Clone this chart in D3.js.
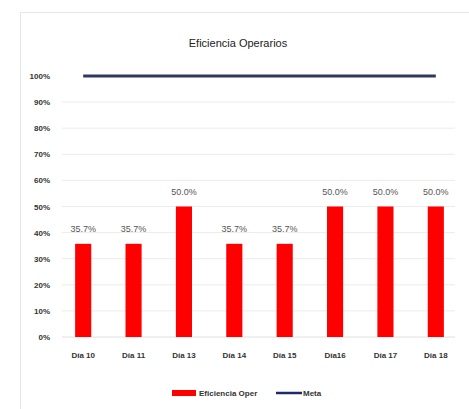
<!DOCTYPE html>
<html><head><meta charset="utf-8">
<script src="https://cdn.jsdelivr.net/npm/d3@7"></script>
<style>body{margin:0;background:#fff}svg{display:block}</style>
</head><body>
<svg id="c" width="469" height="409"></svg>
<script>
const categories = ["Día 10","Día 11","Día 13","Día 14","Día 15","Día16","Día 17","Día 18"];
const eficiencia = [0.357,0.357,0.5,0.357,0.357,0.5,0.5,0.5];
const meta = [1,1,1,1,1,1,1,1];
const yTicks = [0,0.1,0.2,0.3,0.4,0.5,0.6,0.7,0.8,0.9,1.0];
const title = "Eficiencia Operarios";
const legendLabels = ["Eficiencia Oper","Meta"];

const svg = d3.select("#c");
const font = "'Liberation Sans Narrow','Liberation Sans',Arial,sans-serif";
// frame
svg.append("rect").attr("x",20.5).attr("y",12.5).attr("width",470).attr("height",420)
  .attr("fill","#fff").attr("stroke","#e6e6e6");

const x = d3.scaleBand().domain(categories).range([58,461]).paddingInner(0.68).paddingOuter(0.34);
const y = d3.scaleLinear().domain([0,1]).range([337,76]);

// gridlines
svg.append("g").selectAll("line").data(yTicks.slice(1,-1)).join("line")
  .attr("x1",62).attr("x2",455).attr("y1",d=>y(d)).attr("y2",d=>y(d))
  .attr("stroke","#ececec").attr("stroke-width",1);
svg.append("line").attr("x1",62).attr("x2",455).attr("y1",y(0)).attr("y2",y(0)).attr("stroke","#e0e0e0");

// y axis
const yAxis = d3.axisLeft(y).tickValues(yTicks).tickFormat(d3.format(".0%")).tickSize(0).tickPadding(0);
const gy = svg.append("g").attr("transform","translate(50,0)").call(yAxis);
gy.select(".domain").remove();
gy.selectAll("text").attr("font-family",font).attr("font-size",8).attr("font-weight","bold").attr("fill","#333");

// x axis
const xAxis = d3.axisBottom(x).tickSize(0).tickPadding(0);
const gx = svg.append("g").attr("transform","translate(0,352)").call(xAxis);
gx.select(".domain").remove();
gx.selectAll("text").attr("font-family",font).attr("font-size",8).attr("font-weight","bold").attr("fill","#333");

// bars
svg.append("g").selectAll("rect").data(eficiencia).join("rect")
  .attr("x",(d,i)=>x(categories[i])).attr("width",x.bandwidth())
  .attr("y",d=>y(d)).attr("height",d=>y(0)-y(d)).attr("fill","#ff0000");

// value labels
svg.append("g").selectAll("text").data(eficiencia).join("text")
  .attr("x",(d,i)=>x(categories[i])+x.bandwidth()/2).attr("y",d=>y(d)-12)
  .attr("text-anchor","middle").attr("font-family",font).attr("font-size",9)
  .attr("fill","#555").text(d=>d3.format(".1%")(d));

// meta line
const line = d3.line().x((d,i)=>x(categories[i])+x.bandwidth()/2).y(d=>y(d));
svg.append("path").datum(meta).attr("d",line).attr("fill","none")
  .attr("stroke","#2e3a5c").attr("stroke-width",3);

// title
svg.append("text").attr("x",238).attr("y",47).attr("text-anchor","middle")
  .attr("font-family",font).attr("font-size",11).attr("fill","#222").text(title);

// legend
const lg = svg.append("g");
lg.append("rect").attr("x",172).attr("y",390).attr("width",24).attr("height",6).attr("fill","#ff0000");
lg.append("text").attr("x",199).attr("y",396).attr("font-family",font).attr("font-size",8).attr("font-weight","bold").attr("fill","#333").text(legendLabels[0]);
lg.append("line").attr("x1",276).attr("x2",302).attr("y1",393).attr("y2",393).attr("stroke","#1f2a6b").attr("stroke-width",2.5);
lg.append("text").attr("x",303).attr("y",396).attr("font-family",font).attr("font-size",8).attr("font-weight","bold").attr("fill","#333").text(legendLabels[1]);
</script>
</body></html>
